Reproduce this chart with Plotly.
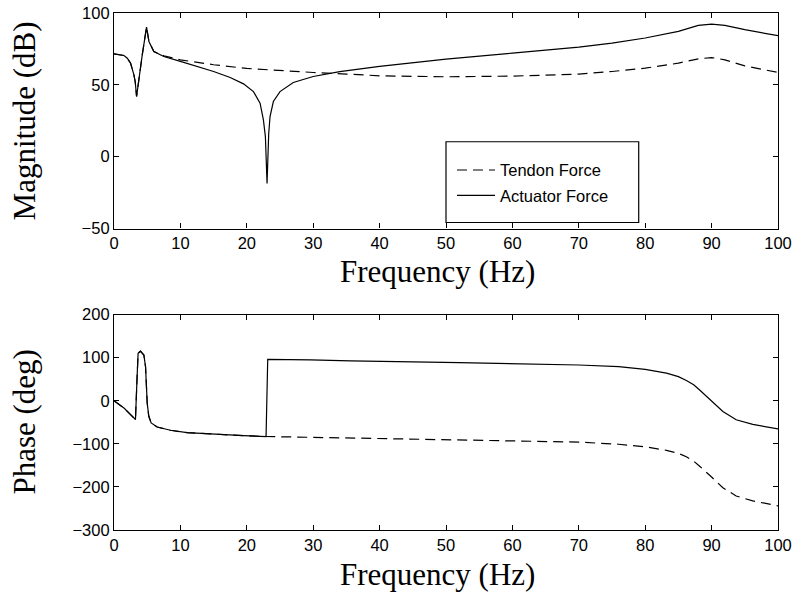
import plotly.graph_objects as go

# ---------------- data ----------------
# Magnitude (dB)
freq_mag_act = [0, 1.5, 2.0, 2.5, 3.0, 3.2, 3.4, 3.76, 4.26, 4.9, 5.26, 6.0, 7.5, 10, 12.5, 15,
                17.5, 19.5, 21, 22, 22.5, 22.8, 23.05, 23.3, 23.5, 24, 25, 27, 30, 34, 40,
                50, 60, 67, 70, 75, 80, 85, 88, 90, 92, 95, 100]
mag_act = [71.6, 70.4, 68.5, 65, 57, 52, 41.9, 55.8, 71, 90.2, 80.2, 73.2, 69.7, 66.3, 62.8, 59.3,
           55.1, 50.7, 45.3, 37.2, 25.6, 14, -18.6, 16, 27.9, 38.4, 45.3, 51.6, 55.8, 59.2, 62.8,
           67.9, 72.1, 75.1, 76.3, 79, 82.6, 87.2, 91.4, 92.3, 91.4, 88.4, 84.2]

freq_mag_ten = [0, 1.5, 2.0, 2.5, 3.0, 3.2, 3.4, 3.76, 4.26, 4.9, 5.26, 6.0, 7.5, 10, 15, 20,
                25, 30, 35, 40, 50, 60, 67, 70, 75, 80, 85, 88, 90, 92, 95, 100]
mag_ten = [71.6, 70.4, 68.5, 65, 57, 52, 41.9, 55.8, 71, 90.2, 80.2, 73.2, 70.2, 67.4, 64, 61.4,
           59.8, 58.6, 57.5, 56.3, 55.6, 56.1, 57, 57.5, 59.3, 61.6, 65.1, 68.1, 69, 67.4, 63.2, 58.6]

# Phase (deg)
freq_ph_act = [0, 1.5, 3.0, 3.23, 3.48, 3.63, 3.98, 4.5, 4.75, 5.0, 5.24, 5.6, 6.5, 8.5, 11, 15,
               19.5, 22.9, 23.15, 29.6, 35.6, 52, 67, 70, 76, 80, 83.2, 85, 86.2, 87.3, 88.2, 89.1,
               90, 91.7, 93.7, 96.2, 100]
ph_act = [0, -17, -40, -44, 56, 110, 115, 106, 79, -5, -36, -51.5, -61, -68.5, -74, -78,
          -81, -83, 96, 94.7, 92.4, 88.5, 84.6, 83, 79, 73, 64, 56, 47, 37, 25, 12,
          -1.5, -25, -44, -55, -65.5]

freq_ph_ten = [0, 1.5, 3.0, 3.23, 3.48, 3.63, 3.98, 4.5, 4.75, 5.0, 5.24, 5.6, 6.5, 8.5, 11, 15,
               19.5, 22.9, 23.6, 35.6, 52, 67, 70, 76, 80, 83.2, 85, 86.2, 87.3, 88.2, 89.1, 90,
               91.7, 93.7, 96.2, 100]
ph_ten = [0, -17, -40, -44, 56, 110, 115, 106, 79, -5, -36, -51.5, -61, -68.5, -74, -78,
          -81, -83, -83.2, -86, -90, -95.5, -96, -101, -107, -115, -122, -130, -140, -152, -164,
          -177, -202, -221, -232.5, -244]

series_names = ["Tendon Force", "Actuator Force"]
x_ticks = [0, 10, 20, 30, 40, 50, 60, 70, 80, 90, 100]
mag_ticks = [-50, 0, 50, 100]
ph_ticks = [-300, -200, -100, 0, 100, 200]

# ---------------- figure ----------------
W, H = 793, 595
ML, MR, MT, MB = 113.5, 14.5, 13.3, 65
pw, ph = W - ML - MR, H - MT - MB

def py(pix):  # pixel row -> paper y
    return (H - MB - pix) / ph

def px(pix):  # pixel col -> paper x
    return (pix - ML) / pw

dash = "10px,6px"
lw = 1.2

fig = go.Figure()
fig.add_trace(go.Scatter(x=freq_mag_ten, y=mag_ten, mode="lines", name=series_names[0],
                         line=dict(color="black", width=lw, dash=dash),
                         legendgroup="a", xaxis="x", yaxis="y"))
fig.add_trace(go.Scatter(x=freq_mag_act, y=mag_act, mode="lines", name=series_names[1],
                         line=dict(color="black", width=lw),
                         legendgroup="b", xaxis="x", yaxis="y"))
fig.add_trace(go.Scatter(x=freq_ph_ten, y=ph_ten, mode="lines", showlegend=False,
                         line=dict(color="black", width=lw, dash=dash),
                         xaxis="x2", yaxis="y2"))
fig.add_trace(go.Scatter(x=freq_ph_act, y=ph_act, mode="lines", showlegend=False,
                         line=dict(color="black", width=lw),
                         xaxis="x2", yaxis="y2"))

tickfont = dict(family="Liberation Sans, Arial, sans-serif", size=16.5, color="black")
ax_common = dict(showline=True, linecolor="black", linewidth=1.2, mirror="ticks",
                 ticks="inside", ticklen=5, tickwidth=1, tickcolor="black",
                 showgrid=False, zeroline=False, tickfont=tickfont, automargin=False)

fig.update_layout(
    width=W, height=H,
    margin=dict(l=ML, r=MR, t=MT, b=MB, pad=0, autoexpand=False),
    paper_bgcolor="white", plot_bgcolor="white",
    xaxis=dict(domain=[0, 1], range=[0, 100], tickvals=x_ticks, anchor="y", **ax_common),
    yaxis=dict(domain=[py(228.7), 1], range=[-50, 100], tickvals=mag_ticks, anchor="x", **ax_common),
    xaxis2=dict(domain=[0, 1], range=[0, 100], tickvals=x_ticks, anchor="y2", **ax_common),
    yaxis2=dict(domain=[0, py(314.7)], range=[-300, 200], tickvals=ph_ticks, anchor="x2", **ax_common),
    showlegend=True,
    legend=dict(x=px(452), y=py(153), xanchor="left", yanchor="top",
                bgcolor="rgba(0,0,0,0)", borderwidth=0, itemwidth=38,
                traceorder="grouped", tracegroupgap=1,
                font=dict(family="Liberation Sans, Arial, sans-serif", size=16.5, color="black")),
    shapes=[dict(type="rect", xref="paper", yref="paper",
                 x0=px(446), x1=px(639), y0=py(222.7), y1=py(142),
                 line=dict(color="black", width=1.2), fillcolor="rgba(0,0,0,0)")],
)

title_font = dict(family="Liberation Serif, Times New Roman, serif", size=31, color="black")
fig.add_annotation(text="Frequency (Hz)", xref="paper", yref="paper", x=px(437), y=py(271.5),
                   xanchor="center", yanchor="middle", showarrow=False, font=title_font)
fig.add_annotation(text="Frequency (Hz)", xref="paper", yref="paper", x=px(437), y=py(574),
                   xanchor="center", yanchor="middle", showarrow=False, font=title_font)
fig.add_annotation(text="Magnitude (dB)", xref="paper", yref="paper", x=px(24), y=py(121),
                   xanchor="center", yanchor="middle", showarrow=False, textangle=-90,
                   font=title_font)
fig.add_annotation(text="Phase (deg)", xref="paper", yref="paper", x=px(24), y=py(422),
                   xanchor="center", yanchor="middle", showarrow=False, textangle=-90,
                   font=title_font)

fig.write_html("out.html")
